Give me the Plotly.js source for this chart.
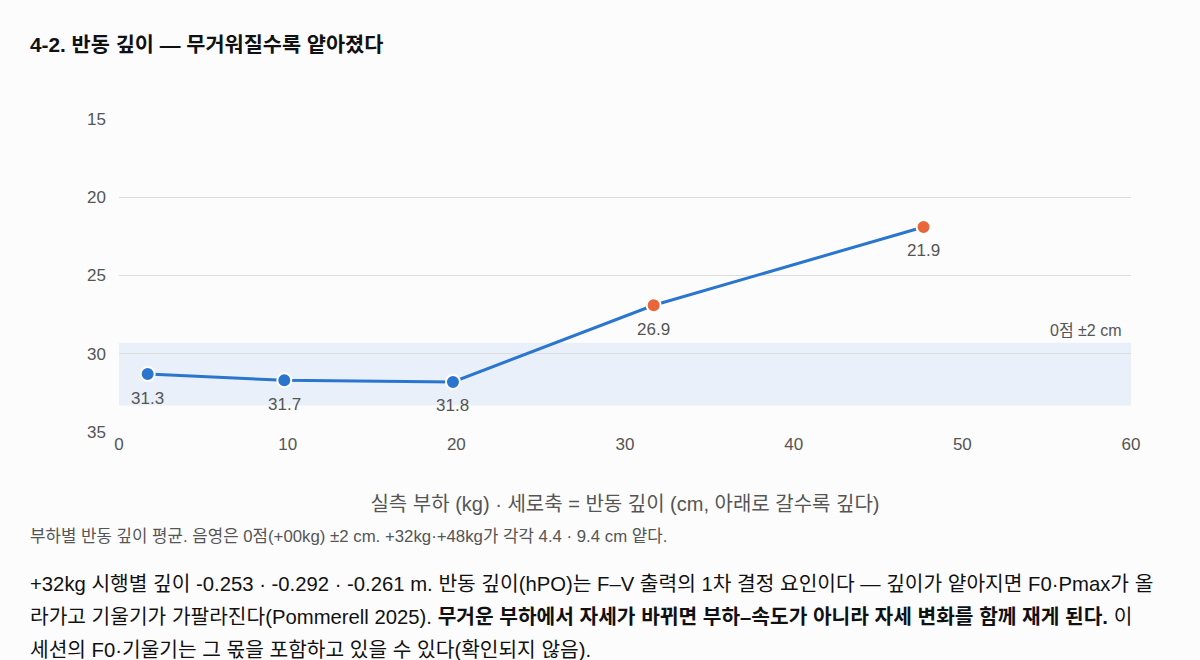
<!DOCTYPE html>
<html>
<head>
<meta charset="utf-8">
<script src="https://cdn.plot.ly/plotly-3.0.1.min.js"></script>
<style>
  body { margin: 0; background: #fcfcfc; font-family: "Liberation Sans", Arial, "Noto Sans CJK KR", sans-serif; color: #222; }
  h2 { position: absolute; left: 30px; top: 33px; margin: 0; font-size: 20.8px; line-height: 24px; font-weight: bold; color: #111; white-space: nowrap; }
  #chart { position: absolute; left: 0; top: 70px; width: 1200px; height: 450px; }
  .cap { position: absolute; left: 30px; top: 527px; margin: 0; font-size: 16.8px; line-height: 20px; color: #555; white-space: nowrap; }
  .para { position: absolute; left: 30px; top: 568px; width: 1160px; margin: 0; font-size: 20.3px; line-height: 33px; color: #111; white-space: nowrap; }
</style>
</head>
<body>
<h2>4-2. 반동 깊이 — 무거워질수록 얕아졌다</h2>
<div id="chart"></div>
<p class="cap">부하별 반동 깊이 평균. 음영은 0점(+00kg) ±2 cm. +32kg·+48kg가 각각 4.4 · 9.4 cm 얕다.</p>
<p class="para">+32kg 시행별 깊이 -0.253 · -0.292 · -0.261 m. 반동 깊이(hPO)는 F–V 출력의 1차 결정 요인이다 — 깊이가 얕아지면 F0·Pmax가 올<br>라가고 기울기가 가팔라진다(Pommerell 2025). <b>무거운 부하에서 자세가 바뀌면 부하–속도가 아니라 자세 변화를 함께 재게 된다.</b> 이<br>세션의 F0·기울기는 그 몫을 포함하고 있을 수 있다(확인되지 않음).</p>
<script>
// measured load (kg) and mean countermovement depth (cm)
const loadKg = [1.7, 9.8, 19.8, 31.7, 47.7];
const depthCm = [31.3, 31.7, 31.8, 26.9, 21.9];
const loadGroup = ['base', 'base', 'base', 'heavy', 'heavy'];
const depthLabels = ['31.3', '31.7', '31.8', '26.9', '21.9'];

// zero-point band
const baseDepth = 31.3;
const bandHalf = 2;

const groupColor = { base: '#2a76cf', heavy: '#e8663a' };

var line1 = {
    x: loadKg,
    y: depthCm,
    type: 'scatter',
    mode: 'lines+markers',
    line: { color: '#2a76cf', width: 3 },
    marker: {
        size: 14,
        color: loadGroup.map(g => groupColor[g]),
        line: { color: '#ffffff', width: 2 }
    },
    hoverinfo: 'x+y',
    cliponaxis: false
};

// value labels under each point
var labelNotes = loadKg.map(function(x, i) {
    return {
        x: x,
        y: depthCm[i],
        xref: 'x',
        yref: 'y',
        text: depthLabels[i],
        showarrow: false,
        yshift: -24,
        font: { size: 17, color: '#555' }
    };
});

var layout = {
    width: 1200,
    height: 450,
    margin: { l: 119, r: 69, t: 49, b: 88 },
    paper_bgcolor: '#fcfcfc',
    plot_bgcolor: '#fcfcfc',
    font: { family: '"Liberation Sans", Arial, "Noto Sans CJK KR", sans-serif', color: '#555' },
    showlegend: false,
    xaxis: {
        range: [0, 60],
        dtick: 10,
        showgrid: false,
        zeroline: false,
        showline: false,
        tickfont: { size: 17, color: '#555' },
        title: {
            text: '실측 부하 (kg) · 세로축 = 반동 깊이 (cm, 아래로 갈수록 깊다)',
            font: { size: 20, color: '#555' },
            standoff: 43
        }
    },
    yaxis: {
        range: [35, 15],
        dtick: 5,
        gridcolor: '#dddddd',
        gridwidth: 1,
        zeroline: false,
        showline: false,
        tickfont: { size: 17, color: '#555' },
        ticklabelstandoff: 12
    },
    shapes: [{
        type: 'rect',
        xref: 'paper',
        yref: 'y',
        x0: 0,
        x1: 1,
        y0: baseDepth - bandHalf,
        y1: baseDepth + bandHalf,
        fillcolor: '#e9f0f9',
        line: { width: 0 },
        layer: 'below'
    }],
    annotations: labelNotes.concat([{
        xref: 'paper',
        yref: 'y',
        x: 0.993,
        y: baseDepth - bandHalf,
        xanchor: 'right',
        yanchor: 'bottom',
        yshift: 2,
        text: '0점 ±2 cm',
        showarrow: false,
        font: { size: 16, color: '#555' }
    }])
};

Plotly.newPlot('chart', [line1], layout, { displayModeBar: false });
</script>
</body>
</html>
